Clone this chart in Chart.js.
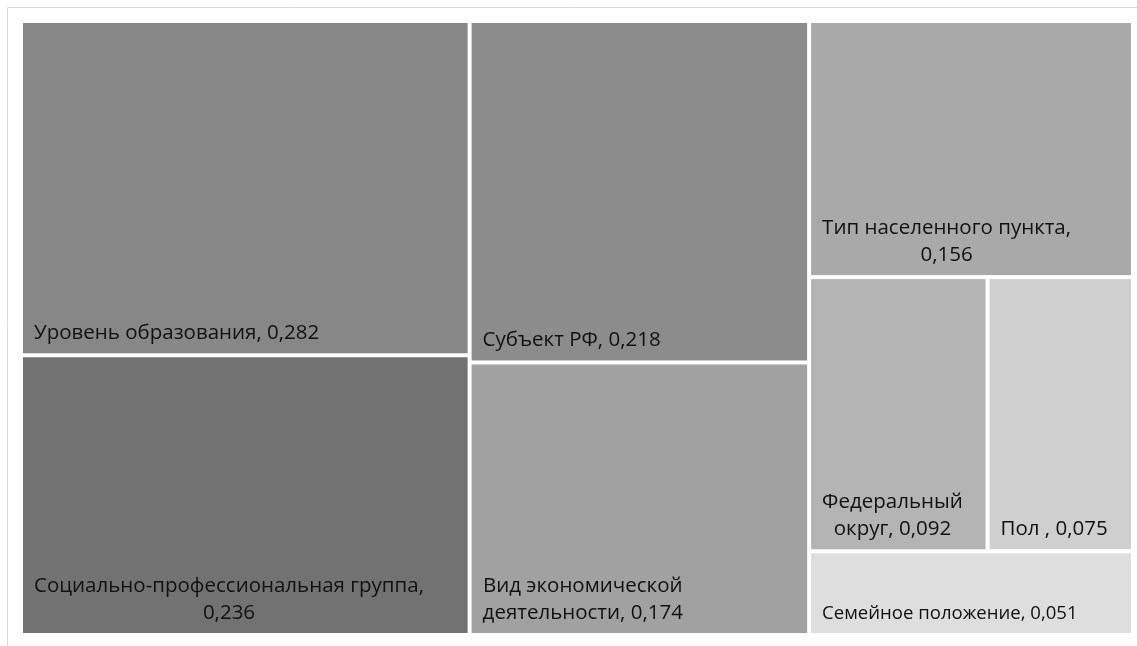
<!DOCTYPE html>
<html lang="ru">
<head>
<meta charset="utf-8">
<script src="https://cdn.jsdelivr.net/npm/chart.js@4.4.1/dist/chart.umd.min.js"></script>
<style>
    html, body { margin: 0; padding: 0; background: #fff; }
    #wrap { position: relative; width: 1137px; height: 646px; }
</style>
</head>
<body>
<div id="wrap"><canvas id="treeChart"></canvas></div>
<script>
// данные диаграммы (значения уже по убыванию)
const categories = [
    'Уровень образования',
    'Социально-профессиональная группа',
    'Субъект РФ',
    'Вид экономической деятельности',
    'Тип населенного пункта',
    'Федеральный округ',
    'Пол ',
    'Семейное положение'
];
const values = [0.282, 0.236, 0.218, 0.174, 0.156, 0.092, 0.075, 0.051];
const colors = ['#878787', '#727272', '#8c8c8c', '#a1a1a1', '#a9a9a9', '#b4b4b4', '#cfcfcf', '#dedede'];

const GAP = 2;          // половина белого зазора между плитками
const FONT = '"Open Sans", "DejaVu Sans", sans-serif';
const FONT_SIZE = 20.5;
const LINE_H = 27;

// худшее соотношение сторон в ряду (алгоритм squarified treemap)
function worst(row, side) {
    const s = row.reduce((a, r) => a + r.v, 0);
    const mx = Math.max(...row.map(r => r.v));
    const mn = Math.min(...row.map(r => r.v));
    return Math.max(side * side * mx / (s * s), (s * s) / (side * side * mn));
}

// раскладка в единицах: ширина = aspect, высота = 1
function squarify(vals, aspect) {
    const total = vals.reduce((a, b) => a + b, 0);
    let rest = vals.map((v, i) => ({ v: v * aspect / total, i: i }));
    let x = 0, y = 0, w = aspect, h = 1;
    const out = [];
    while (rest.length) {
        const side = Math.min(w, h);
        const row = [rest[0]];
        let k = 1;
        while (k < rest.length && worst(row.concat(rest[k]), side) <= worst(row, side)) {
            row.push(rest[k]);
            k++;
        }
        rest = rest.slice(k);
        const s = row.reduce((a, r) => a + r.v, 0);
        if (w >= h) {
            const cw = s / h;
            let cy = y;
            row.forEach(r => {
                const rh = r.v / cw;
                out[r.i] = { x0: x / aspect, x1: (x + cw) / aspect, y0: cy, y1: cy + rh };
                cy += rh;
            });
            x += cw; w -= cw;
        } else {
            const rh = s / w;
            let cx = x;
            row.forEach(r => {
                const rw = r.v / rh;
                out[r.i] = { x0: cx / aspect, x1: (cx + rw) / aspect, y0: y, y1: y + rh };
                cx += rw;
            });
            y += rh; h -= rh;
        }
    }
    return out;
}

// перенос подписи по словам
function wrapText(ctx, text, maxW) {
    const words = text.split(' ');
    const lines = [];
    let cur = '';
    words.forEach(wd => {
        const test = cur ? cur + ' ' + wd : wd;
        if (cur && ctx.measureText(test).width > maxW) {
            lines.push(cur);
            cur = wd;
        } else {
            cur = test;
        }
    });
    if (cur) lines.push(cur);
    return lines;
}

const frame = {
    id: 'frame',
    beforeDraw(chart) {
        const ctx = chart.ctx;
        ctx.save();
        ctx.strokeStyle = '#d9d9d9';
        ctx.lineWidth = 1;
        ctx.beginPath();
        ctx.moveTo(7.5, chart.height);
        ctx.lineTo(7.5, 7.5);
        ctx.lineTo(chart.width, 7.5);
        ctx.stroke();
        ctx.restore();
    }
};

const treemap = {
    id: 'treemap',
    afterDatasetsDraw(chart) {
        const ctx = chart.ctx;
        const xs = chart.scales.x, ys = chart.scales.y;
        const area = chart.chartArea;
        const rects = squarify(values, (area.right - area.left) / (area.bottom - area.top));
        ctx.save();
        rects.forEach((r, i) => {
            const l = xs.getPixelForValue(r.x0) + GAP;
            const rr = xs.getPixelForValue(r.x1) - GAP;
            const t = ys.getPixelForValue(r.y0) + GAP;
            const b = ys.getPixelForValue(r.y1) - GAP;
            ctx.fillStyle = colors[i];
            ctx.fillRect(l, t, rr - l, b - t);

            // подпись: категория, значение (в низких плитках шрифт чуть меньше)
            const size = FONT_SIZE * Math.min(1, (b - t) / 88);
            ctx.font = size + 'px ' + FONT;
            ctx.fillStyle = '#111';
            ctx.textBaseline = 'alphabetic';
            const label = categories[i] + ', ' + values[i].toFixed(3).replace('.', ',');
            const lines = wrapText(ctx, label, rr - l - 22);
            const blockW = Math.max(...lines.map(s => ctx.measureText(s).width));
            const cx = l + 11 + blockW / 2;
            ctx.textAlign = 'center';
            lines.forEach((s, j) => {
                const yy = b - 14 - (lines.length - 1 - j) * LINE_H;
                ctx.fillText(s, cx, yy);
            });
        });
        ctx.restore();
    }
};

new Chart(document.getElementById('treeChart'), {
    type: 'scatter',
    data: { datasets: [{ data: [] }] },
    options: {
        responsive: true,
        maintainAspectRatio: false,
        animation: false,
        layout: { padding: { left: 21, top: 21, right: 4, bottom: 11 } },
        scales: {
            x: { type: 'linear', min: 0, max: 1, display: false },
            y: { type: 'linear', min: 0, max: 1, reverse: true, display: false }
        },
        plugins: { legend: { display: false }, tooltip: { enabled: false } }
    },
    plugins: [frame, treemap]
});
</script>
</body>
</html>
